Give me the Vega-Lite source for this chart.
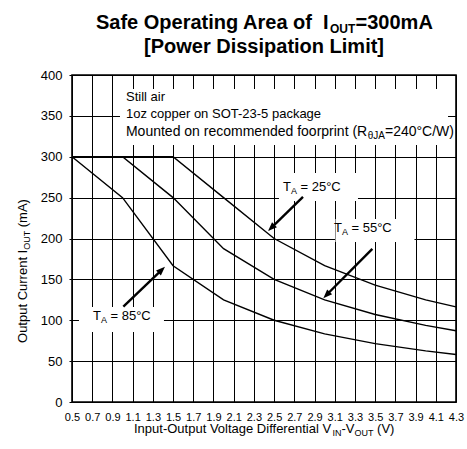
{
  "$schema": "https://vega.github.io/schema/vega-lite/v6.json",
  "width": 384,
  "height": 327,
  "autosize": {"type": "none"},
  "padding": {"left": 72, "top": 75, "right": 11, "bottom": 47},
  "background": "white",
  "config": {
    "font": "Liberation Sans",
    "view": {"stroke": "#000", "strokeWidth": 1.6}
  },
  "datasets": {
    "curves": [
      {"ta": "25", "x": 0.5, "y": 300}, {"ta": "25", "x": 1.0, "y": 300}, {"ta": "25", "x": 1.5, "y": 300},
      {"ta": "25", "x": 2.0, "y": 250}, {"ta": "25", "x": 2.5, "y": 200}, {"ta": "25", "x": 3.0, "y": 166.7},
      {"ta": "25", "x": 3.5, "y": 142.9}, {"ta": "25", "x": 4.0, "y": 125}, {"ta": "25", "x": 4.3, "y": 116.3},
      {"ta": "55", "x": 0.5, "y": 300}, {"ta": "55", "x": 1.0, "y": 300}, {"ta": "55", "x": 1.5, "y": 250},
      {"ta": "55", "x": 2.0, "y": 187.5}, {"ta": "55", "x": 2.5, "y": 150}, {"ta": "55", "x": 3.0, "y": 125},
      {"ta": "55", "x": 3.5, "y": 107.1}, {"ta": "55", "x": 4.0, "y": 93.8}, {"ta": "55", "x": 4.3, "y": 87.2},
      {"ta": "85", "x": 0.5, "y": 300}, {"ta": "85", "x": 1.0, "y": 250}, {"ta": "85", "x": 1.5, "y": 166.7},
      {"ta": "85", "x": 2.0, "y": 125}, {"ta": "85", "x": 2.5, "y": 100}, {"ta": "85", "x": 3.0, "y": 83.3},
      {"ta": "85", "x": 3.5, "y": 71.4}, {"ta": "85", "x": 4.0, "y": 62.5}, {"ta": "85", "x": 4.3, "y": 58.1}
    ],
    "boxes": [
      {"x": 0.975, "x2": 4.221, "y": 382.9, "y2": 314.4},
      {"x": 2.548, "x2": 3.33, "y": 280.1, "y2": 245.9},
      {"x": 3.107, "x2": 3.889, "y": 223.9, "y2": 195.7},
      {"x": 0.569, "x2": 1.41, "y": 116.2, "y2": 85.6}
    ],
    "shafts": [
      {"x": 2.786, "y": 250.8, "x2": 2.482, "y2": 214.3},
      {"x": 3.472, "y": 187.2, "x2": 3.028, "y2": 132.1},
      {"x": 1.008, "y": 116.6, "x2": 1.378, "y2": 160.4}
    ],
    "heads": [
      {"x": 2.44, "y": 209.2, "angle": 225.8},
      {"x": 2.987, "y": 126.9, "angle": 224.8},
      {"x": 1.42, "y": 165.5, "angle": 46.2}
    ],
    "text13": [
      {"x": 1.034, "y": 368.2, "text": "Still air"},
      {"x": 1.034, "y": 346.8, "text": "1oz copper on SOT-23-5 package"},
      {"x": 2.588, "y": 258.7, "text": "T"},
      {"x": 2.761, "y": 258.7, "text": "= 25°C"},
      {"x": 3.093, "y": 207.6, "text": "T"},
      {"x": 3.266, "y": 207.6, "text": "= 55°C"},
      {"x": 0.708, "y": 100.3, "text": "T"},
      {"x": 0.881, "y": 100.3, "text": "= 85°C"},
      {"x": 1.1136, "y": -37.9, "text": "Input-Output Voltage Differential V"},
      {"x": 3.167, "y": -37.9, "text": "-V"},
      {"x": 3.519, "y": -37.9, "text": "(V)"}
    ],
    "text9": [
      {"x": 2.666, "y": 255.0, "text": "A"},
      {"x": 3.171, "y": 203.9, "text": "A"},
      {"x": 0.786, "y": 96.7, "text": "A"},
      {"x": 3.078, "y": -41.6, "text": "IN"},
      {"x": 3.296, "y": -41.6, "text": "OUT"}
    ],
    "text14": [
      {"x": 1.034, "y": 325.4, "text": "Mounted on recommended foorprint (R"},
      {"x": 3.597, "y": 325.4, "text": "=240°C/W)"}
    ],
    "text10": [
      {"x": 3.426, "y": 321.7, "text": "θJA"}
    ],
    "bold20": [
      {"x": 0.7375, "y": 456.3, "text": "Safe Operating Area of\u00a0 I"},
      {"x": 3.306, "y": 456.3, "text": "=300mA"},
      {"x": 1.2125, "y": 426.9, "text": "[Power Dissipation Limit]"}
    ],
    "bold12": [
      {"x": 3.053, "y": 451.4, "text": "OUT"}
    ],
    "rot13": [
      {"x": 0.0547, "y": 72.2, "text": "Output Current I"},
      {"x": 0.0547, "y": 213.8, "text": "(mA)"}
    ],
    "rot9": [
      {"x": 0.0844, "y": 186.2, "text": "OUT"}
    ]
  },
  "encoding": {
    "x": {
      "field": "x", "type": "quantitative",
      "scale": {"domain": [0.5, 4.3], "nice": false, "zero": false},
      "axis": {
        "title": null,
        "values": [0.5, 0.7, 0.9, 1.1, 1.3, 1.5, 1.7, 1.9, 2.1, 2.3, 2.5, 2.7, 2.9, 3.1, 3.3, 3.5, 3.7, 3.9, 4.1, 4.3],
        "format": ".1f",
        "grid": true, "gridColor": "#000", "gridWidth": 1, "gridOpacity": 1,
        "domain": false, "ticks": false,
        "labelFontSize": 11, "labelColor": "#000", "labelPadding": 9,
        "labelFlush": false, "labelOverlap": false
      }
    },
    "y": {
      "field": "y", "type": "quantitative",
      "scale": {"domain": [0, 400], "nice": false, "zero": false},
      "axis": {
        "title": null,
        "values": [0, 50, 100, 150, 200, 250, 300, 350, 400],
        "grid": true, "gridColor": "#000", "gridWidth": 1, "gridOpacity": 1,
        "domain": false, "ticks": true, "tickSize": 3, "tickColor": "#000",
        "labelFontSize": 13, "labelColor": "#000", "labelPadding": 7,
        "labelFlush": false, "labelOverlap": false
      }
    }
  },
  "layer": [
    {
      "data": {"name": "boxes"},
      "mark": {"type": "rect", "fill": "white", "stroke": null},
      "encoding": {"x2": {"field": "x2"}, "y2": {"field": "y2"}}
    },
    {
      "data": {"name": "curves"},
      "mark": {"type": "line", "color": "#000", "strokeWidth": 1.4},
      "encoding": {"detail": {"field": "ta"}}
    },
    {
      "data": {"name": "shafts"},
      "mark": {"type": "rule", "color": "#000", "strokeWidth": 2.4},
      "encoding": {"x2": {"field": "x2"}, "y2": {"field": "y2"}}
    },
    {
      "data": {"name": "heads"},
      "mark": {"type": "point", "shape": "M0,0L0.7,1.8L-0.7,1.8Z", "filled": true, "color": "#000", "size": 100, "opacity": 1, "strokeWidth": 0},
      "encoding": {"angle": {"field": "angle", "type": "quantitative", "scale": null}}
    },
    {
      "data": {"name": "text13"},
      "mark": {"type": "text", "fontSize": 13, "align": "left", "baseline": "alphabetic", "color": "#000"},
      "encoding": {"text": {"field": "text"}}
    },
    {
      "data": {"name": "text9"},
      "mark": {"type": "text", "fontSize": 9, "align": "left", "baseline": "alphabetic", "color": "#000"},
      "encoding": {"text": {"field": "text"}}
    },
    {
      "data": {"name": "text14"},
      "mark": {"type": "text", "fontSize": 14, "align": "left", "baseline": "alphabetic", "color": "#000"},
      "encoding": {"text": {"field": "text"}}
    },
    {
      "data": {"name": "text10"},
      "mark": {"type": "text", "fontSize": 10, "align": "left", "baseline": "alphabetic", "color": "#000"},
      "encoding": {"text": {"field": "text"}}
    },
    {
      "data": {"name": "bold20"},
      "mark": {"type": "text", "fontSize": 20, "fontWeight": "bold", "align": "left", "baseline": "alphabetic", "color": "#000"},
      "encoding": {"text": {"field": "text"}}
    },
    {
      "data": {"name": "bold12"},
      "mark": {"type": "text", "fontSize": 12, "fontWeight": "bold", "align": "left", "baseline": "alphabetic", "color": "#000"},
      "encoding": {"text": {"field": "text"}}
    },
    {
      "data": {"name": "rot13"},
      "mark": {"type": "text", "fontSize": 13, "angle": 270, "align": "left", "baseline": "alphabetic", "color": "#000"},
      "encoding": {"text": {"field": "text"}}
    },
    {
      "data": {"name": "rot9"},
      "mark": {"type": "text", "fontSize": 9, "angle": 270, "align": "left", "baseline": "alphabetic", "color": "#000"},
      "encoding": {"text": {"field": "text"}}
    }
  ]
}
